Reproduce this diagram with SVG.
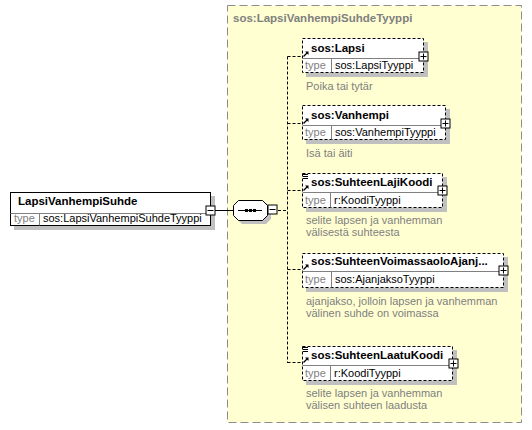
<svg xmlns="http://www.w3.org/2000/svg" width="532" height="430" viewBox="0 0 532 430">
<defs>
<style>
.bg{fill:#ffffff}
.grp{fill:#ffffd2;stroke:#8c8c8c;stroke-width:1;stroke-dasharray:8,4}
.shadow{fill:#c0c0c0;stroke:none}
.box{fill:#ffffff;stroke:#000;stroke-width:1}
.opt{fill:#ffffff;stroke:#000;stroke-width:1;stroke-dasharray:3,2}
.sep{stroke:#808080;stroke-width:1}
.name{font-family:"Liberation Sans",Arial,sans-serif;font-size:11.5px;font-weight:bold;fill:#000}
.ttl{font-family:"Liberation Sans",Arial,sans-serif;font-size:11.5px;font-weight:bold;fill:#808080}
.lbl{font-family:"Liberation Sans",Arial,sans-serif;font-size:11px;fill:#808080}
.val{font-family:"Liberation Sans",Arial,sans-serif;font-size:11px;fill:#000}
.desc{font-family:"Liberation Sans",Arial,sans-serif;font-size:11px;fill:#808080}
.conn{fill:none;stroke:#000;stroke-width:1}
.dconn{fill:none;stroke:#000;stroke-width:1;stroke-dasharray:3,2}
.btn{fill:#fff;stroke:#000;stroke-width:1}
</style>
<g id="plus">
<rect class="btn" x="-4.5" y="-4.5" width="9" height="9"/>
<path d="M-3,0H3M0,-3V3" stroke="#000" stroke-width="1"/>
</g>
<g id="minus">
<rect class="btn" x="-4.5" y="-4.5" width="9" height="9"/>
<path d="M-3,0H3" stroke="#000" stroke-width="1"/>
</g>
<g id="ref">
<path d="M0.5,5.5L4.5,1.5" stroke="#000" stroke-width="1.2" fill="none"/>
<path d="M2,0.5H5.5V4Z" fill="#000"/>
</g>
<g id="enum">
<path d="M0,0.5H5M0,2.5H5M0,4.5H5" stroke="#000" stroke-width="1"/>
</g>
</defs>
<rect class="bg" x="0" y="0" width="532" height="430"/>

<g id="group-type">
<rect class="grp" x="227.5" y="5.5" width="294" height="417"/>
<text class="ttl" x="233" y="22">sos:LapsiVanhempiSuhdeTyyppi</text>
</g>

<g id="connectors">
<line class="conn" x1="215" y1="210.5" x2="233" y2="210.5"/>
<line class="dconn" x1="278" y1="210.5" x2="288" y2="210.5"/>
<line class="dconn" x1="287.5" y1="56.5" x2="287.5" y2="363"/>
<line class="dconn" x1="287.5" y1="56.5" x2="302" y2="56.5"/>
<line class="dconn" x1="287.5" y1="123.5" x2="302" y2="123.5"/>
<line class="dconn" x1="287.5" y1="190.5" x2="302" y2="190.5"/>
<line class="dconn" x1="287.5" y1="269.5" x2="302" y2="269.5"/>
<line class="dconn" x1="287.5" y1="362.5" x2="302" y2="362.5"/>
</g>

<g id="node-root">
<rect class="shadow" x="14" y="196" width="201" height="34"/>
<rect class="box" x="10.5" y="192.5" width="200" height="33"/>
<line class="sep" x1="10.5" y1="213.5" x2="210.5" y2="213.5"/>
<line class="sep" x1="39.5" y1="213.5" x2="39.5" y2="225.5"/>
<text class="name" x="18" y="205">LapsiVanhempiSuhde</text>
<text class="lbl" x="14" y="222">type</text>
<text class="val" x="43" y="222">sos:LapsiVanhempiSuhdeTyyppi</text>
<use href="#minus" x="210.5" y="210.5"/>
</g>

<g id="node-sequence">
<path class="shadow" d="M242,203H266L271,208V219L266,224H242L237,219V208Z"/>
<path class="box" d="M238.5,200.5H262.5L267.5,205.5V215.5L262.5,220.5H238.5L233.5,215.5V205.5Z"/>
<line x1="238" y1="210.5" x2="262" y2="210.5" stroke="#000" stroke-width="1"/>
<rect x="245" y="209" width="3" height="3" fill="#000"/>
<rect x="249" y="209" width="3" height="3" fill="#000"/>
<rect x="253" y="209" width="3" height="3" fill="#000"/>
<use href="#minus" x="272.5" y="209.5"/>
</g>

<g id="node-lapsi">
<rect class="shadow" x="306" y="42" width="122" height="35"/>
<rect class="opt" x="302.5" y="38.5" width="121" height="34"/>
<line class="sep" x1="302.5" y1="58.5" x2="423.5" y2="58.5"/>
<line class="sep" x1="331.5" y1="58.5" x2="331.5" y2="72.5"/>
<use href="#ref" x="303" y="51"/>
<text class="name" x="311" y="52">sos:Lapsi</text>
<text class="lbl" x="305" y="69">type</text>
<text class="val" x="335" y="69">sos:LapsiTyyppi</text>
<use href="#plus" x="423.5" y="56.5"/>
<text class="desc" x="306" y="90">Poika tai tytär</text>
</g>

<g id="node-vanhempi">
<rect class="shadow" x="306" y="109" width="144" height="35"/>
<rect class="opt" x="302.5" y="105.5" width="143" height="34"/>
<line class="sep" x1="302.5" y1="125.5" x2="445.5" y2="125.5"/>
<line class="sep" x1="331.5" y1="125.5" x2="331.5" y2="139.5"/>
<use href="#ref" x="303" y="118"/>
<text class="name" x="311" y="119">sos:Vanhempi</text>
<text class="lbl" x="305" y="136">type</text>
<text class="val" x="335" y="136">sos:VanhempiTyyppi</text>
<use href="#plus" x="445.5" y="123.5"/>
<text class="desc" x="306" y="157">Isä tai äiti</text>
</g>

<g id="node-lajikoodi">
<rect class="shadow" x="306" y="177" width="141" height="35"/>
<rect class="opt" x="302.5" y="173.5" width="140" height="34"/>
<line class="sep" x1="302.5" y1="192.5" x2="442.5" y2="192.5"/>
<line class="sep" x1="330.5" y1="192.5" x2="330.5" y2="207.5"/>
<use href="#enum" x="303" y="174"/>
<use href="#ref" x="303" y="185"/>
<text class="name" x="311" y="186">sos:SuhteenLajiKoodi</text>
<text class="lbl" x="305" y="204">type</text>
<text class="val" x="334" y="204">r:KoodiTyyppi</text>
<use href="#plus" x="442.5" y="190.5"/>
<text class="desc" x="306" y="224">selite lapsen ja vanhemman</text>
<text class="desc" x="306" y="236">välisestä suhteesta</text>
</g>

<g id="node-voimassaolo">
<rect class="shadow" x="306" y="257" width="202" height="35"/>
<rect class="opt" x="302.5" y="253.5" width="201" height="34"/>
<line class="sep" x1="302.5" y1="271.5" x2="503.5" y2="271.5"/>
<line class="sep" x1="331.5" y1="271.5" x2="331.5" y2="287.5"/>
<use href="#ref" x="303" y="264"/>
<text class="name" x="311" y="265">sos:SuhteenVoimassaoloAjanj...</text>
<text class="lbl" x="305" y="283">type</text>
<text class="val" x="335" y="283">sos:AjanjaksoTyyppi</text>
<use href="#plus" x="503.5" y="270.5"/>
<text class="desc" x="306" y="305">ajanjakso, jolloin lapsen ja vanhemman</text>
<text class="desc" x="306" y="317">välinen suhde on voimassa</text>
</g>

<g id="node-laatukoodi">
<rect class="shadow" x="306" y="350" width="151" height="35"/>
<rect class="opt" x="302.5" y="346.5" width="150" height="34"/>
<line class="sep" x1="302.5" y1="365.5" x2="452.5" y2="365.5"/>
<line class="sep" x1="330.5" y1="365.5" x2="330.5" y2="380.5"/>
<use href="#enum" x="303" y="347"/>
<use href="#ref" x="303" y="357"/>
<text class="name" x="311" y="359">sos:SuhteenLaatuKoodi</text>
<text class="lbl" x="305" y="377">type</text>
<text class="val" x="334" y="377">r:KoodiTyyppi</text>
<use href="#plus" x="453.5" y="363.5"/>
<text class="desc" x="306" y="397">selite lapsen ja vanhemman</text>
<text class="desc" x="306" y="409">välisen suhteen laadusta</text>
</g>
</svg>
